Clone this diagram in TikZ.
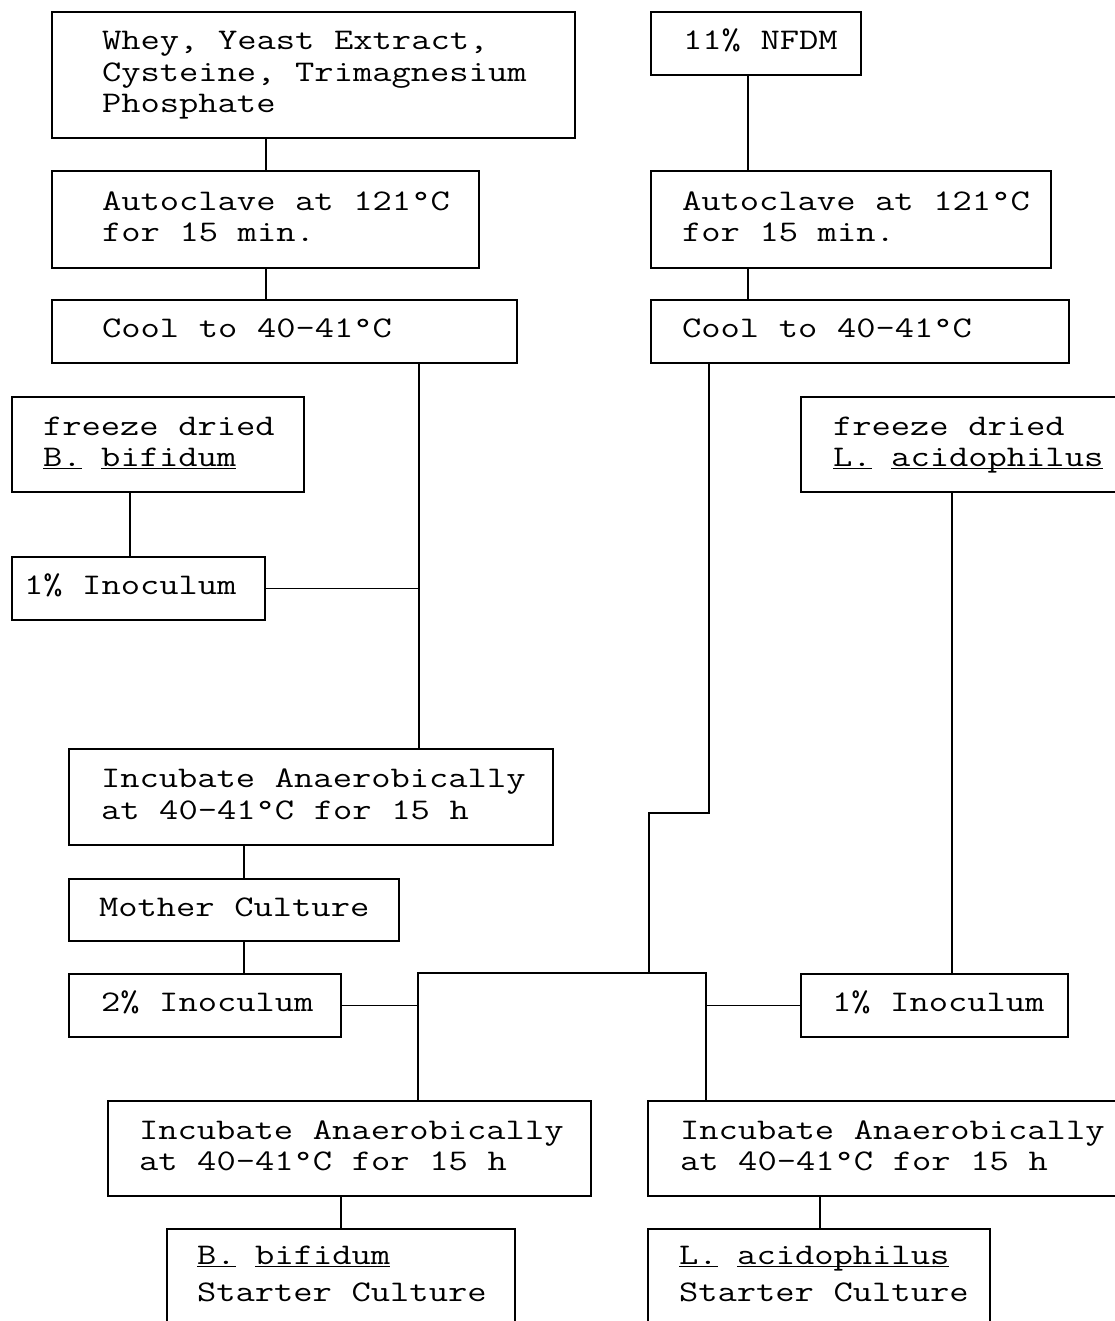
\documentclass[tikz,border=0pt]{standalone}
\usepackage{fontspec}
\setmonofont[FakeStretch=1.25]{Latin Modern Mono}
\usetikzlibrary{positioning}

% one pixel of the scan
\newcommand\upx{*0.025cm}
\newcommand\ulw[1]{\underline{\smash{#1}}}
\newcommand\rows[1]{\spaceskip=13.98pt\relax\xspaceskip=13.98pt\relax\begin{tabular}{@{}l@{}}#1\end{tabular}}

\tikzset{
  stepbox/.style n args={3}{draw, rectangle, anchor=north west, outer sep=0pt,
    minimum width=#1\upx, minimum height=#2\upx,
    inner ysep=0pt, inner xsep=#3\upx, text width=(#1-2*#3)\upx, align=left,
    font=\ttfamily\fontsize{21.3}{22.4}\selectfont}
}

\begin{document}
\begin{tikzpicture}[x=0.025cm,y=-0.025cm,line width=1.3pt]
  \useasboundingbox (0,0) rectangle (1115,1321);
  % media
  \node[stepbox={523}{126}{50}] (wheymix) at (52,12) {\rows{Whey, Yeast Extract,\\Cysteine, Trimagnesium\\Phosphate}};
  \node[stepbox={210}{63}{32}] (nfdm) at (651,12) {\rows{11\% NFDM}};
  \node[stepbox={427}{97}{50}] (autoB) at (52,171) {\rows{Autoclave at 121°C\\for 15 min.}};
  \node[stepbox={400}{97}{31}] (autoL) at (651,171) {\rows{Autoclave at 121°C\\for 15 min.}};
  \node[stepbox={465}{63}{50}] (coolB) at (52,300) {\rows{Cool to 40-41°C}};
  \node[stepbox={418}{63}{31}] (coolL) at (651,300) {\rows{Cool to 40-41°C}};
  % cultures
  \node[stepbox={292}{95}{31}] (dryB) at (12,397) {\rows{freeze dried\\\ulw{B.} \ulw{bifidum}}};
  \node[stepbox={340}{95}{32}] (dryL) at (801,397) {\rows{freeze dried\\\ulw{L.} \ulw{acidophilus}}};
  \node[stepbox={253}{63}{12}] (inocB1) at (12,557) {\rows{1\% Inoculum}};
  \node[stepbox={484}{96}{32}] (incMother) at (69,749) {\rows{Incubate Anaerobically\\at 40-41°C for 15 h}};
  \node[stepbox={330}{62}{30}] (mother) at (69,879) {\rows{Mother Culture}};
  \node[stepbox={272}{63}{32}] (inocB2) at (69,974) {\rows{2\% Inoculum}};
  \node[stepbox={267}{63}{31}] (inocL1) at (801,974) {\rows{1\% Inoculum}};
  \node[stepbox={483}{95}{31}] (incB) at (108,1101) {\rows{Incubate Anaerobically\\at 40-41°C for 15 h}};
  \node[stepbox={480}{95}{32}] (incL) at (648,1101) {\rows{Incubate Anaerobically\\at 40-41°C for 15 h}};
  \node[stepbox={348}{96}{30}] (startB) at (167,1229) {\rows{\ulw{B.} \ulw{bifidum}\\[4pt]Starter Culture}};
  \node[stepbox={342}{96}{31}] (startL) at (648,1229) {\rows{\ulw{L.} \ulw{acidophilus}\\[4pt]Starter Culture}};

  \foreach \src/\dsrc/\dst/\ddst in {wheymix/214/autoB/214, autoB/214/coolB/214,
      nfdm/97/autoL/97, autoL/97/coolL/97, dryB/118/inocB1/118, dryL/151/inocL1/151,
      incMother/175/mother/175, mother/175/inocB2/175, incB/233/startB/174, incL/172/startL/172}
    \draw ([xshift=\dsrc\upx]\src.south west) -- ([xshift=\ddst\upx]\dst.north west);

  \coordinate (jB) at ([xshift=367\upx]coolB.south west);
  \draw (jB) -- (jB |- incMother.north);
  \draw (inocB1.east) -- (inocB1.east -| jB);

  \coordinate (jL) at ([xshift=58\upx]coolL.south west);
  \coordinate (bend) at (649,813);
  \coordinate (splitL) at (418,973);
  \coordinate (splitR) at (706,973);
  \draw (jL) |- (bend) -- (bend |- splitR);
  \draw (incB.north -| splitL) |- (splitR) -- (incL.north -| splitR);
  \draw (inocB2.east) -- (inocB2.east -| splitL);
  \draw (inocL1.west) -- (inocL1.west -| splitR);
\end{tikzpicture}
\end{document}
